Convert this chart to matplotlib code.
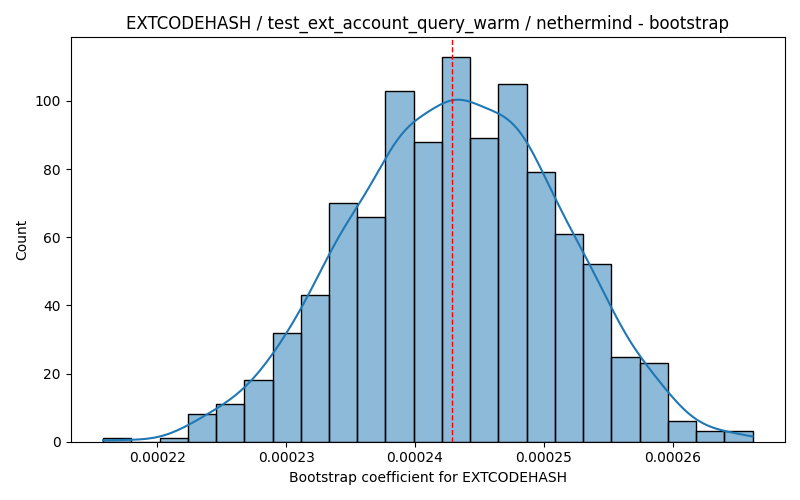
import matplotlib
matplotlib.use("Agg")
import matplotlib.pyplot as plt
import numpy as np

# bin counts (23 equal bins)
counts = [1, 0, 1, 8, 11, 18, 32, 43, 70, 66, 103, 88, 113,
          89, 105, 79, 61, 52, 25, 23, 6, 3, 3]
x_min = 0.0002158
x_max = 0.0002662
mean_value = 0.0002429

title = "EXTCODEHASH / test_ext_account_query_warm / nethermind - bootstrap"
x_label = "Bootstrap coefficient for EXTCODEHASH"
y_label = "Count"


def kde_curve(centers, weights, grid):
    # gaussian kde with scott bandwidth, weighted by bin counts
    w = np.asarray(weights, dtype=float)
    n = w.sum()
    mu = np.sum(w * centers) / n
    sd = np.sqrt(np.sum(w * (centers - mu) ** 2) / n)
    bw = sd * n ** (-1 / 5)
    z = (grid[:, None] - centers[None, :]) / bw
    dens = (w[None, :] * np.exp(-0.5 * z ** 2)).sum(axis=1) / (n * bw * np.sqrt(2 * np.pi))
    return dens


def main():
    edges = np.linspace(x_min, x_max, len(counts) + 1)
    centers = (edges[:-1] + edges[1:]) / 2
    width = edges[1] - edges[0]

    fig, ax = plt.subplots(figsize=(8, 5), dpi=100)
    ax.hist(centers, bins=edges, weights=counts, facecolor=(0.1216, 0.4667, 0.7059, 0.5),
            edgecolor="black", linewidth=1)

    grid = np.linspace(x_min, x_max, 200)
    dens = kde_curve(centers, counts, grid)
    ax.plot(grid, dens * sum(counts) * width, color="#1f77b4", linewidth=1.5)

    ax.axvline(mean_value, color="red", linestyle="--", linewidth=1)

    ax.set_title(title)
    ax.set_xlabel(x_label)
    ax.set_ylabel(y_label)
    fig.tight_layout()
    fig.savefig("out.png")


if __name__ == "__main__":
    main()
